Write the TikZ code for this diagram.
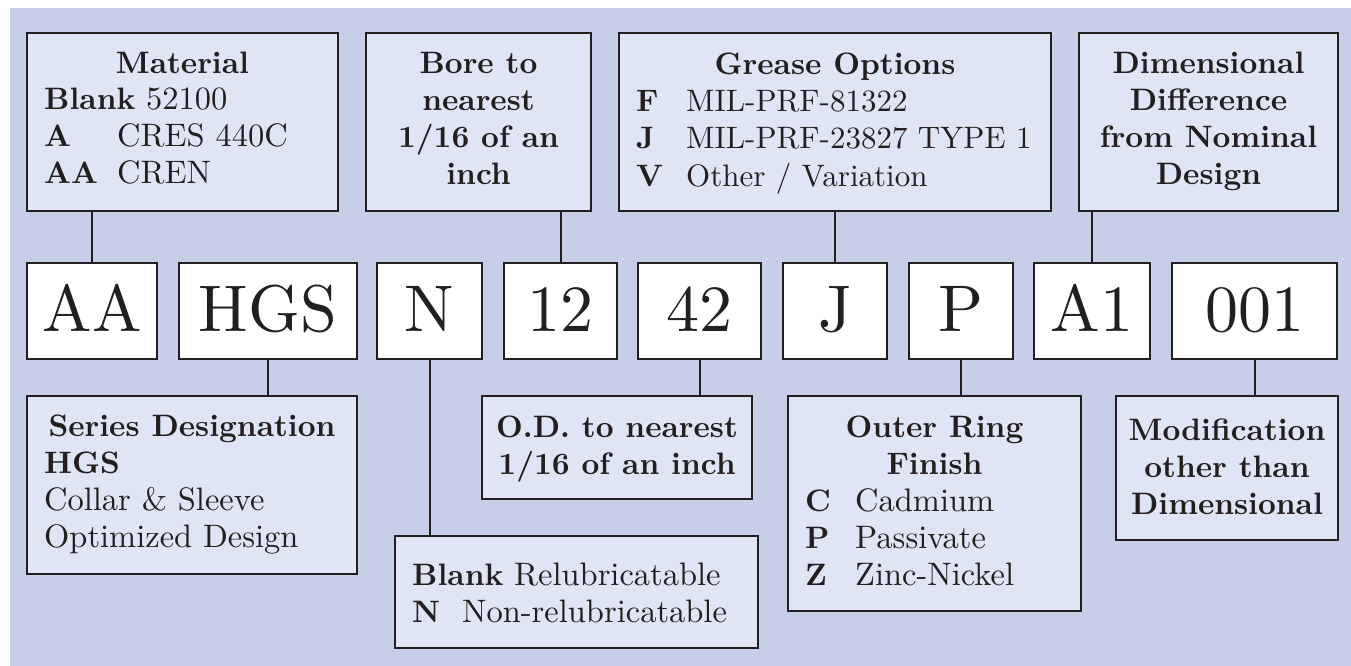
\documentclass[tikz,border=0pt]{standalone}
\usepackage{fontspec}
\setmainfont{lmroman10-regular.otf}[BoldFont=lmroman10-bold.otf,ItalicFont=lmroman10-italic.otf,BoldItalicFont=lmroman10-bolditalic.otf]
\definecolor{bgc}{HTML}{C7CFE8}
\definecolor{boxc}{HTML}{DFE5F4}
\definecolor{lc}{HTML}{231F20}
\newcommand\lbl[1]{{\fontsize{31}{37}\selectfont\bfseries #1}}
\begin{document}
\begin{tikzpicture}[x=1pt,y=-1pt,
  infobox/.style={draw=lc,line width=2pt,fill=boxc,anchor=north west,inner sep=0pt},
  codebox/.style={draw=lc,line width=2pt,fill=white,anchor=north west,inner sep=0pt,minimum height=96pt},
  conn/.style={draw=lc,line width=2pt},
  hd/.style={inner sep=0pt,anchor=base,font=\fontsize{31}{37}\selectfont\bfseries,text=lc},
  bd/.style={inner sep=0pt,anchor=base west,font=\fontsize{32.5}{37}\selectfont,text=lc},
  cd/.style={inner sep=0pt,anchor=base,font=\fontsize{66}{70}\selectfont,text=lc}]
\useasboundingbox (0,0) rectangle (1351,666);
\fill[white] (0,0) rectangle (1351,666);
\fill[bgc] (10,8) rectangle (1351,666);

% top info boxes
\node[infobox,minimum width=311pt,minimum height=178pt] (mat) at (26,32) {};
\node[infobox,minimum width=225pt,minimum height=178pt] (bore) at (365,32) {};
\node[infobox,minimum width=432pt,minimum height=178pt] (grease) at (618,32) {};
\node[infobox,minimum width=259pt,minimum height=178pt] (dim) at (1078,32) {};

% code boxes
\node[codebox,minimum width=130pt] (aa) at (26,262) {};
\node[codebox,minimum width=178pt] (hgs) at (178,262) {};
\node[codebox,minimum width=105pt] (n) at (376,262) {};
\node[codebox,minimum width=113pt] (c12) at (503,262) {};
\node[codebox,minimum width=123pt] (c42) at (637,262) {};
\node[codebox,minimum width=104pt] (j) at (782,262) {};
\node[codebox,minimum width=104pt] (p) at (908,262) {};
\node[codebox,minimum width=116pt] (a1) at (1033,262) {};
\node[codebox,minimum width=165pt] (c001) at (1171,262) {};

% bottom info boxes
\node[infobox,minimum width=330pt,minimum height=178pt] (ser) at (26,395) {};
\node[infobox,minimum width=270pt,minimum height=103pt] (od) at (481,395) {};
\node[infobox,minimum width=363pt,minimum height=112pt] (relub) at (394,535) {};
\node[infobox,minimum width=293pt,minimum height=215pt] (ring) at (787,395) {};
\node[infobox,minimum width=222pt,minimum height=144pt] (mod) at (1115,395) {};

% connectors
\draw[conn] (aa.north) -- (aa.north |- mat.south);
\draw[conn] (c12.north) -- (c12.north |- bore.south);
\draw[conn] (j.north) -- (j.north |- grease.south);
\draw[conn] (a1.north) -- (a1.north |- dim.south);
\draw[conn] (hgs.south) -- (hgs.south |- ser.north);
\draw[conn] (n.south) -- (n.south |- relub.north);
\draw[conn] (c42.south) -- (c42.south |- od.north);
\draw[conn] (p.south) -- (p.south |- ring.north);
\draw[conn] (c001.south) -- (c001.south |- mod.north);

% code texts
\node[cd] (taa) at (aa.center |- 0,331) {AA};
\node[cd] (thgs) at (hgs.center |- 0,331) {HGS};
\node[cd] (tn) at (n.center |- 0,331) {N};
\node[cd] (t12) at (c12.center |- 0,331) {12};
\node[cd] (t42) at (c42.center |- 0,331) {42};
\node[cd] (tj) at (j.center |- 0,331) {J};
\node[cd] (tp) at (p.center |- 0,331) {P};
\node[cd] (ta1) at (a1.center |- 0,331) {A1};
\node[cd] (t001) at (c001.center |- 0,331) {001};

% Material
\node[hd] (matH) at (mat.center |- 0,74) {Material};
\node[bd] (matB) at (44,110) {\begin{tabular}[t]{@{}p{73pt}@{}l@{}}
\multicolumn{2}{@{}l@{}}{\lbl{Blank} 52100}\\
\lbl{A} & CRES 440C\\
\lbl{AA} & CREN
\end{tabular}};

% Bore
\node[hd] (boreH) at (bore.center |- 0,74) {\begin{tabular}[t]{@{}c@{}}Bore to\\nearest\\1/16 of an\\inch\end{tabular}};

% Grease
\node[hd] (greaseH) at (grease.center |- 0,75) {Grease Options};
\node[bd,font=\fontsize{31}{37}\selectfont] (greaseB) at (636,112) {\begin{tabular}[t]{@{}p{50pt}@{}l@{}}
\lbl{F} & MIL-PRF-81322\\
\lbl{J} & MIL-PRF-23827 TYPE 1\\
\lbl{V} & Other / Variation
\end{tabular}};

% Dimensional
\node[hd] (dimH) at (dim.center |- 0,74) {\begin{tabular}[t]{@{}c@{}}Dimensional\\Difference\\from Nominal\\Design\end{tabular}};

% Series
\node[hd] (serH) at (ser.center |- 0,436) {Series Designation};
\node[bd] (serB) at (44,473) {\begin{tabular}[t]{@{}l@{}}
\lbl{HGS}\\
Collar \& Sleeve\\
Optimized Design
\end{tabular}};

% O.D.
\node[hd] (odH) at (od.center |- 0,437) {\begin{tabular}[t]{@{}c@{}}O.D. to nearest\\1/16 of an inch\end{tabular}};

% Relubricatable
\node[bd] (relubB) at (412,585) {\begin{tabular}[t]{@{}p{50pt}@{}l@{}}
\multicolumn{2}{@{}l@{}}{\lbl{Blank} Relubricatable}\\
\lbl{N} & Non-relubricatable
\end{tabular}};

% Outer ring
\node[hd] (ringH) at (ring.center |- 0,437) {\begin{tabular}[t]{@{}c@{}}Outer Ring\\Finish\end{tabular}};
\node[bd] (ringB) at (805,511) {\begin{tabular}[t]{@{}p{50pt}@{}l@{}}
\lbl{C} & Cadmium\\
\lbl{P} & Passivate\\
\lbl{Z} & Zinc-Nickel
\end{tabular}};

% Modification
\node[hd] (modH) at (mod.center |- 0,440) {\begin{tabular}[t]{@{}c@{}}Modification\\other than\\Dimensional\end{tabular}};
\end{tikzpicture}
\end{document}
